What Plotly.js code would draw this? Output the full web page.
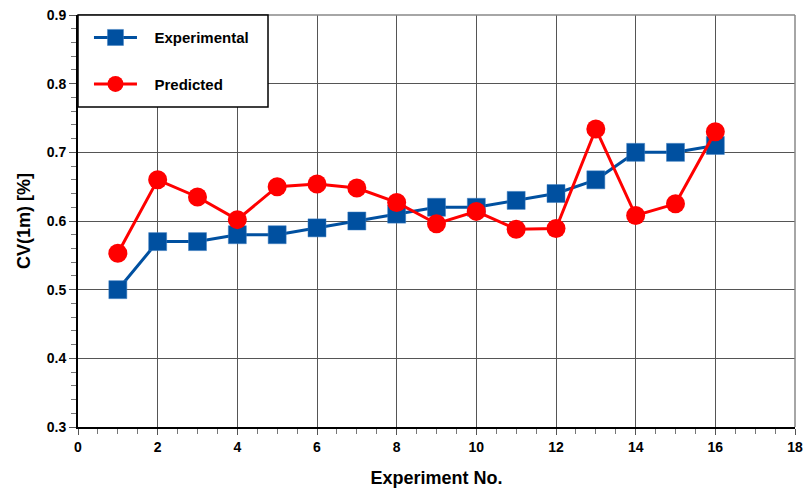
<!DOCTYPE html>
<html>
<head>
<meta charset="utf-8">
<script src="https://cdn.plot.ly/plotly-3.0.1.min.js"></script>
<style>
  html, body { margin: 0; padding: 0; background: #fff; }
  #chart { width: 805px; height: 490px; }
</style>
</head>
<body>
<div id="chart"></div>
<script>
// Experiment numbers and coefficient-of-variation values
const experimentNo = [1, 2, 3, 4, 5, 6, 7, 8, 9, 10, 11, 12, 13, 14, 15, 16];
const experimental = [0.50, 0.57, 0.57, 0.58, 0.58, 0.59, 0.60, 0.61, 0.62, 0.62, 0.63, 0.64, 0.66, 0.70, 0.70, 0.71];
const predicted    = [0.553, 0.660, 0.635, 0.602, 0.650, 0.654, 0.648, 0.627, 0.596, 0.614, 0.588, 0.589, 0.734, 0.608, 0.625, 0.730];
const seriesNames = ['Experimental', 'Predicted'];
const xTicks = [0, 2, 4, 6, 8, 10, 12, 14, 16, 18];
const yTicks = [0.3, 0.4, 0.5, 0.6, 0.7, 0.8, 0.9];

const family = 'Arial, "Liberation Sans", sans-serif';

const traces = [
  {
    x: experimentNo, y: experimental, name: '\u00a0\u00a0\u00a0' + seriesNames[0], legendgroup: 'a',
    mode: 'lines+markers', type: 'scatter',
    line: { color: '#0050a0', width: 3 },
    marker: { symbol: 'square', size: 18, color: '#0050a0', line: { color: '#3f7fc0', width: 0.5 } }
  },
  {
    x: experimentNo, y: predicted, name: '\u00a0\u00a0\u00a0' + seriesNames[1], legendgroup: 'b',
    mode: 'lines+markers', type: 'scatter',
    line: { color: '#ff0000', width: 3 },
    marker: { symbol: 'circle', size: 19, color: '#ff0000' }
  }
];

const layout = {
  width: 805, height: 490,
  margin: { l: 78, r: 10, t: 15, b: 63 },
  paper_bgcolor: '#fff', plot_bgcolor: '#fff',
  showlegend: true,
  legend: {
    x: 0.0153, y: 0.985, xanchor: 'left', yanchor: 'top',
    bgcolor: 'rgba(0,0,0,0)', borderwidth: 0,
    font: { family: family, size: 15, color: '#000', weight: 'bold' },
    tracegroupgap: 24, itemwidth: 43
  },
  xaxis: {
    range: [0, 18], tickvals: xTicks, ticktext: xTicks.map(String),
    showgrid: true, gridcolor: '#555', gridwidth: 1,
    showline: true, linecolor: '#000', linewidth: 2,
    ticks: 'outside', ticklen: 6, tickwidth: 1, tickcolor: '#555',
    minor: { dtick: 0.5, tick0: 0, ticks: 'outside', ticklen: 5, tickcolor: '#777', showgrid: false },
    tickfont: { family: family, size: 14, color: '#000', weight: 'bold' },
    zeroline: false,
    title: { text: 'Experiment No.', font: { family: family, size: 18, color: '#000', weight: 'bold' }, standoff: 18 }
  },
  yaxis: {
    range: [0.3, 0.9], tickvals: yTicks, ticktext: yTicks.map(v => v.toFixed(1)),
    showgrid: true, gridcolor: '#555', gridwidth: 1,
    showline: true, linecolor: '#000', linewidth: 2,
    ticks: 'outside', ticklen: 7, tickwidth: 1, tickcolor: '#555',
    minor: { dtick: 0.02, tick0: 0.3, ticks: 'outside', ticklen: 5, tickcolor: '#777', showgrid: false },
    tickfont: { family: family, size: 14, color: '#000', weight: 'bold' },
    zeroline: false,
    title: { text: 'CV(1m) [%]', font: { family: family, size: 18, color: '#000', weight: 'bold' }, standoff: 11 }
  },
  shapes: [
    // top and right frame lines
    { type: 'line', xref: 'paper', yref: 'paper', x0: 0, x1: 1, y0: 1, y1: 1, line: { color: '#888', width: 1.5 } },
    { type: 'line', xref: 'paper', yref: 'paper', x0: 1, x1: 1, y0: 0, y1: 1, line: { color: '#888', width: 1.5 } },
    // legend frame
    { type: 'rect', xref: 'paper', yref: 'paper', x0: 0, x1: 0.265, y0: 0.777, y1: 1,
      fillcolor: '#fff', line: { color: '#000', width: 1.5 }, layer: 'above' }
  ]
};

Plotly.newPlot('chart', traces, layout, { displayModeBar: false, staticPlot: true });
</script>
</body>
</html>
